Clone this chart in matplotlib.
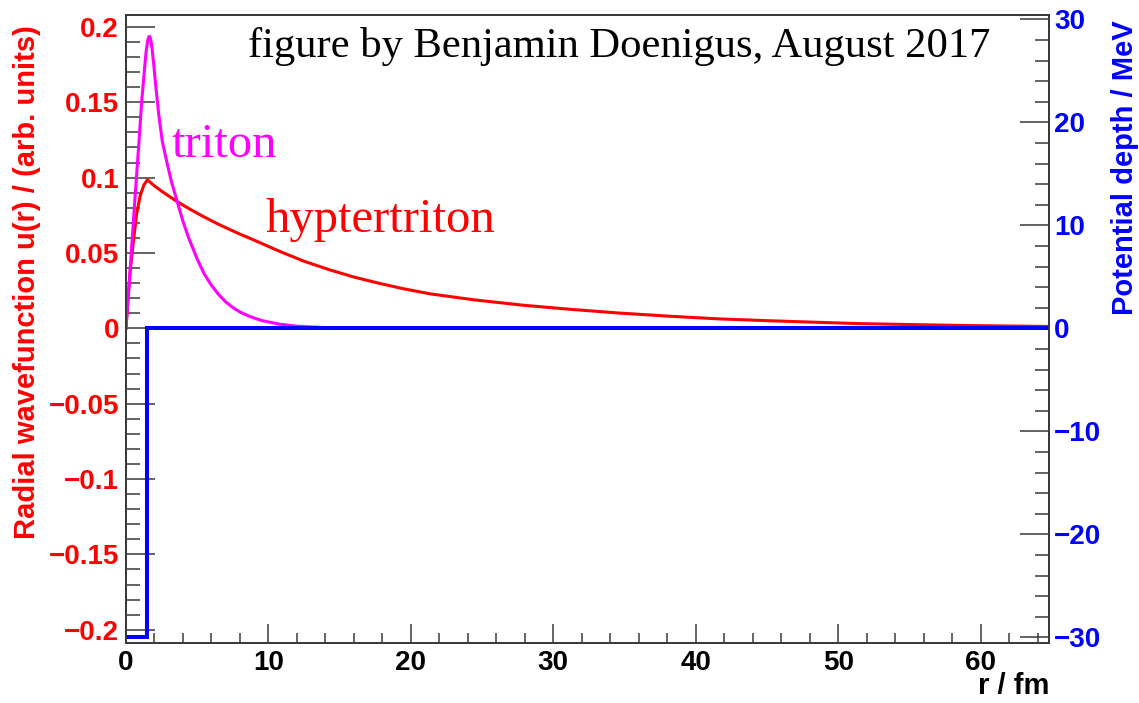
import matplotlib
matplotlib.use("Agg")
import matplotlib.pyplot as plt
from matplotlib.ticker import MultipleLocator

# radial wavefunction of the hypertriton (arb. units)
r_hyp = [0.0, 0.15, 0.3, 0.5, 0.75, 1.0, 1.25, 1.5, 2.0, 2.5, 3.0, 3.6, 4.5,
         5.5, 6.5, 7.3, 8.0, 9.0, 10.8, 12.5, 14.3, 16.0, 17.8, 19.5, 21.4,
         24.5, 28.0, 31.2, 34.5, 38.2, 41.5, 45.2, 48.5, 51.5, 55.0, 58.6,
         62.0, 65.0]
u_hyp = [0.0, 0.020, 0.038, 0.056, 0.076, 0.088, 0.095, 0.0985, 0.0945,
         0.0910, 0.0878, 0.0840, 0.0790, 0.0738, 0.0690, 0.0655, 0.0625,
         0.0585, 0.0510, 0.0445, 0.0388, 0.0340, 0.0298, 0.0262, 0.0228,
         0.0188, 0.0152, 0.0126, 0.0102, 0.0080, 0.0063, 0.0050, 0.0040,
         0.0031, 0.0025, 0.0019, 0.0015, 0.0012]

# radial wavefunction of the triton (arb. units)
r_tri = [0.0, 0.3, 0.6, 0.9, 1.1, 1.3, 1.42, 1.52, 1.6, 1.68, 1.76, 1.85,
         1.95, 2.1, 2.3, 2.55, 2.9, 3.2, 3.6, 4.0, 4.4, 5.0, 5.5, 6.0, 6.5,
         7.0, 7.5, 8.0, 8.7, 9.5, 10.8, 12.0, 13.6, 15.0, 17.0, 65.0]
u_tri = [0.0, 0.040, 0.082, 0.122, 0.150, 0.172, 0.184, 0.1905, 0.1935,
         0.1935, 0.1905, 0.184, 0.175, 0.160, 0.142, 0.124, 0.109, 0.097,
         0.084, 0.071, 0.060, 0.046, 0.036, 0.0285, 0.0225, 0.0175, 0.0138,
         0.0108, 0.0078, 0.0052, 0.0027, 0.0014, 0.0006, 0.0002, 0.0, 0.0]

# square-well potential depth
r_pot = [0.0, 1.5, 1.5, 65.0]
v_pot = [-30.0, -30.0, 0.0, 0.0]

plt.rcParams['font.family'] = ['Liberation Sans', 'DejaVu Sans']

fig = plt.figure(figsize=(11.39, 7.03), dpi=100)
ax = fig.add_axes([0.1106, 0.0858, 0.8104, 0.8929])
ax2 = ax.twinx()

ax.plot(r_hyp, u_hyp, color='#ff0000', lw=2.2)
ax.plot(r_tri, u_tri, color='#ff00ff', lw=2.2)
ax2.plot(r_pot, v_pot, color='#0000ff', lw=2.9, solid_joinstyle='miter')

ax.set_xlim(0, 64.8)
ax.set_ylim(-0.2086, 0.2079)
ax2.set_ylim(-30.52, 30.42)

frame_col = '#3a3a3a'
for a in (ax, ax2):
    for s in a.spines.values():
        s.set_color(frame_col)
        s.set_linewidth(1.4)

ax.xaxis.set_major_locator(MultipleLocator(10))
ax.xaxis.set_minor_locator(MultipleLocator(2))
ax.yaxis.set_major_locator(MultipleLocator(0.05))
ax.yaxis.set_minor_locator(MultipleLocator(0.01))
ax2.yaxis.set_major_locator(MultipleLocator(10))
ax2.yaxis.set_minor_locator(MultipleLocator(2))

tick_size = 20
ax.tick_params(axis='x', which='major', direction='in', length=13.7, width=1.1,
               color=frame_col, pad=5, labelsize=tick_size)
ax.tick_params(axis='x', which='minor', direction='in', length=7.2, width=1.1,
               color=frame_col)
ax.tick_params(axis='y', which='major', direction='in', length=20.9, width=1.1,
               color=frame_col, pad=5, labelsize=tick_size,
               labelcolor='#ff0000')
ax.tick_params(axis='y', which='minor', direction='in', length=10, width=1.1,
               color=frame_col)
ax2.tick_params(axis='y', which='major', direction='in', length=20.9, width=1.1,
                color=frame_col, pad=3.6, labelsize=tick_size,
                labelcolor='#0000ff')
ax2.tick_params(axis='y', which='minor', direction='in', length=10, width=1.1,
                color=frame_col)

ax.yaxis.set_major_formatter(plt.FuncFormatter(
    lambda v, p: '0' if abs(v) < 1e-9 else ('%g' % v).replace('-', '\u2212')))

for lab in ax.get_xticklabels() + ax.get_yticklabels() + ax2.get_yticklabels():
    lab.set_fontweight('bold')

ax.set_ylabel('Radial wavefunction u(r) / (arb. units)', color='#ff0000',
              fontsize=21, fontweight='bold', loc='top')
ax.yaxis.set_label_coords(-0.092, 0.984)
ax2.set_ylabel('Potential depth / MeV', color='#0000ff', fontsize=21,
               fontweight='bold', loc='top')
ax2.yaxis.set_label_coords(1.067, 0.992)
ax.set_xlabel('r / fm', fontsize=21, fontweight='bold', loc='right')
ax.xaxis.set_label_coords(1.0, -0.047)

serif = ['Liberation Serif', 'DejaVu Serif']
ax.text(8.57, 0.1800, 'figure by Benjamin Doenigus, August 2017', family=serif,
        fontsize=30.7, color='black', va='baseline', ha='left')
ax.text(3.23, 0.1137, 'triton', family=serif, fontsize=35, color='#ff00ff',
        va='baseline', ha='left')
ax.text(9.76, 0.0641, 'hyptertriton', family=serif, fontsize=35,
        color='#ff0000', va='baseline', ha='left')

fig.savefig('out.png', dpi=100)
